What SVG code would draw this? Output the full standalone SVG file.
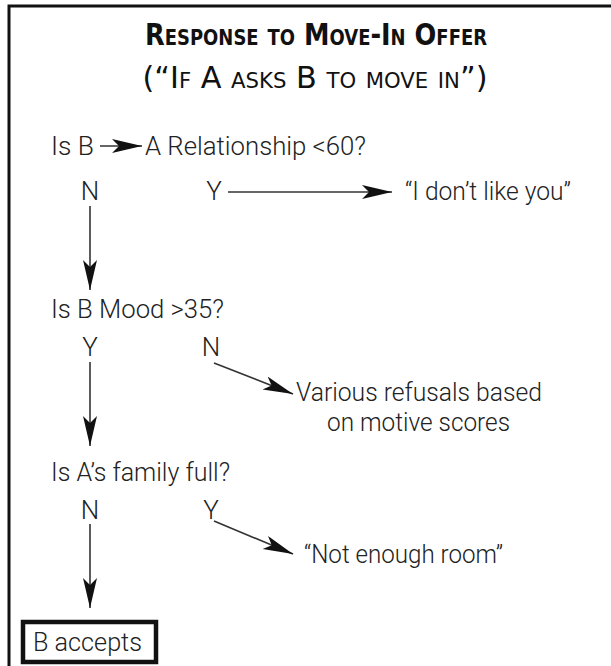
<svg xmlns="http://www.w3.org/2000/svg" width="611" height="666" viewBox="0 0 611 666">
<style>
.title{font-family:"DejaVu Sans","Liberation Sans",sans-serif;font-weight:bold;font-variant:small-caps;fill:#111;}
.sub{font-family:"DejaVu Sans","Liberation Sans",sans-serif;font-variant:small-caps;fill:#111;}
.t{font-family:Roboto,"Liberation Sans",sans-serif;font-weight:300;font-size:26px;fill:#222;}
.c{stroke:#333;stroke-width:1.6;fill:none;}
</style>
<defs>
<marker id="ah" markerUnits="userSpaceOnUse" markerWidth="32" markerHeight="16" refX="30" refY="7" orient="auto" viewBox="0 0 32 16">
<path d="M0,0 L30,7 L0,14 L7,7 z" fill="#111"/>
</marker>
</defs>
<rect x="9" y="6" width="640" height="700" fill="#fff" stroke="#111" stroke-width="3"/>
<g id="title">
<text class="title" x="316" y="45" font-size="30" text-anchor="middle" textLength="342" lengthAdjust="spacingAndGlyphs">Response to Move-In Offer</text>
<text class="sub" x="315" y="88" font-size="30" text-anchor="middle" textLength="345" lengthAdjust="spacingAndGlyphs">(“If A asks B to move in”)</text>
</g>
<g id="q1">
<text class="t" x="51" y="155" textLength="43" lengthAdjust="spacingAndGlyphs">Is B</text>
<line class="c" x1="100" y1="146" x2="142" y2="146" marker-end="url(#ah)"/>
<text class="t" x="145" y="155" textLength="221" lengthAdjust="spacingAndGlyphs">A Relationship &lt;60?</text>
</g>
<g id="q1-labels">
<text class="t" x="90" y="200" text-anchor="middle">N</text>
<text class="t" x="214" y="200" text-anchor="middle">Y</text>
</g>
<g id="r1">
<text class="t" x="405" y="200" textLength="166" lengthAdjust="spacingAndGlyphs">“I don’t like you”</text>
</g>
<g id="q2">
<text class="t" x="51" y="318" textLength="173" lengthAdjust="spacingAndGlyphs">Is B Mood &gt;35?</text>
</g>
<g id="q2-labels">
<text class="t" x="90" y="356" text-anchor="middle">Y</text>
<text class="t" x="211" y="356" text-anchor="middle">N</text>
</g>
<g id="r2">
<text class="t" x="296" y="401" font-size="25" textLength="246" lengthAdjust="spacingAndGlyphs">Various refusals based</text>
<text class="t" x="327" y="431" font-size="25" textLength="183" lengthAdjust="spacingAndGlyphs">on motive scores</text>
</g>
<g id="q3">
<text class="t" x="51" y="481" textLength="179" lengthAdjust="spacingAndGlyphs">Is A’s family full?</text>
</g>
<g id="q3-labels">
<text class="t" x="90" y="519" text-anchor="middle">N</text>
<text class="t" x="211" y="519" text-anchor="middle">Y</text>
</g>
<g id="r3">
<text class="t" x="304" y="563" textLength="199" lengthAdjust="spacingAndGlyphs">“Not enough room”</text>
</g>
<g id="accept">
<rect x="23" y="622" width="133" height="40" fill="#fff" stroke="#111" stroke-width="4.5"/>
<text class="t" x="33" y="651" textLength="109" lengthAdjust="spacingAndGlyphs">B accepts</text>
</g>
<g id="connectors">
<line class="c" x1="228" y1="192" x2="392" y2="192" marker-end="url(#ah)"/>
<line class="c" x1="90" y1="206" x2="90" y2="290" marker-end="url(#ah)"/>
<line class="c" x1="90" y1="362" x2="90" y2="446" marker-end="url(#ah)"/>
<line class="c" x1="214" y1="363" x2="293" y2="394" marker-end="url(#ah)"/>
<line class="c" x1="90" y1="524" x2="90" y2="608" marker-end="url(#ah)"/>
<line class="c" x1="214" y1="521" x2="293" y2="554" marker-end="url(#ah)"/>
</g>
</svg>
